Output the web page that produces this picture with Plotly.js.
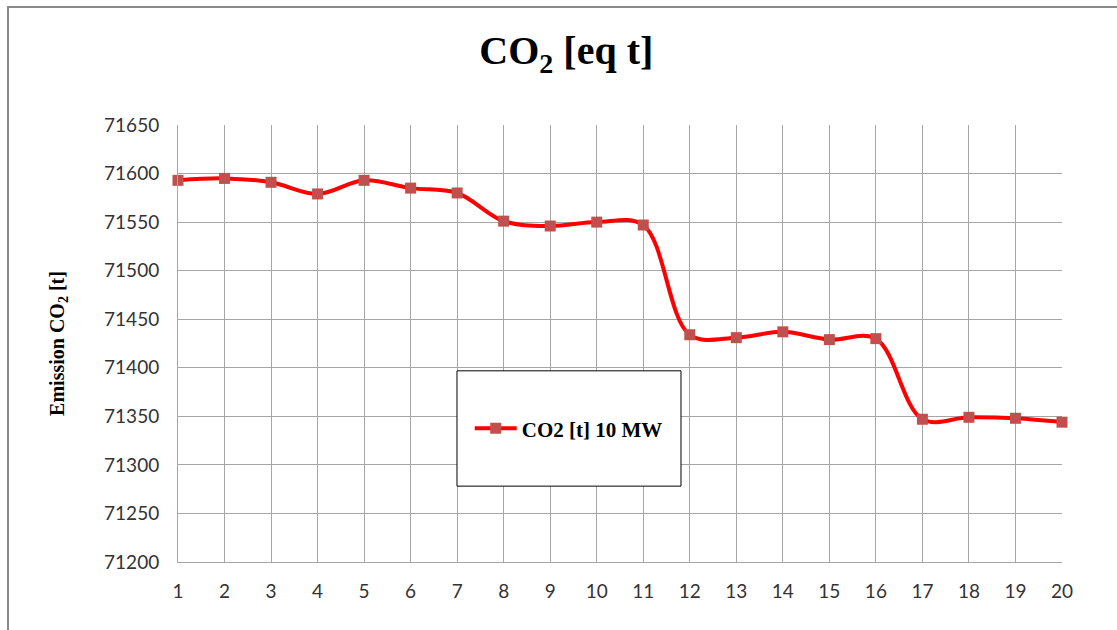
<!DOCTYPE html>
<html>
<head>
<meta charset="utf-8">
<script src="https://cdn.plot.ly/plotly-3.0.1.min.js"></script>
<style>
  html, body { margin: 0; padding: 0; background: #fff; }
  #wrap { position: relative; width: 1117px; height: 630px; overflow: hidden; }
  #frame { position: absolute; left: 7px; top: 6px; width: 1120px; height: 640px; border-left: 2px solid #8a8a8a; border-top: 2px solid #8a8a8a; box-sizing: border-box; pointer-events: none; }
  #chart { position: absolute; left: 0; top: 0; width: 1117px; height: 630px; }
</style>
</head>
<body>
<div id="wrap">
  <div id="chart"></div>
  <div id="frame"></div>
</div>
<script>
const categories = [1, 2, 3, 4, 5, 6, 7, 8, 9, 10, 11, 12, 13, 14, 15, 16, 17, 18, 19, 20];
const co2Values = [71593, 71595, 71591, 71579, 71593, 71585, 71580, 71551, 71546, 71550,
                   71547, 71434, 71431, 71437, 71429, 71430, 71347, 71349, 71348, 71344];
const seriesName = '<b>CO2 [t] 10 MW</b>';
const yTicks = [71200, 71250, 71300, 71350, 71400, 71450, 71500, 71550, 71600, 71650];

const trace = {
  x: categories,
  y: co2Values,
  name: seriesName,
  type: 'scatter',
  mode: 'lines+markers',
  line: { color: '#ff0000', width: 4, shape: 'spline', smoothing: 1 },
  marker: { symbol: 'square', size: 11, color: '#c0504d', line: { width: 0 } },
  cliponaxis: false
};

const layout = {
  width: 1117,
  height: 630,
  margin: { l: 178, r: 55, t: 125, b: 68 },
  paper_bgcolor: '#ffffff',
  plot_bgcolor: '#ffffff',
  showlegend: true,
  title: {
    text: '<b>CO<sub>2</sub> [eq t]</b>',
    font: { family: 'Liberation Serif, Times New Roman, serif', size: 40, color: '#000' },
    x: 0.507, xanchor: 'center', y: 0.92, yanchor: 'middle'
  },
  xaxis: {
    range: [1, 20],
    tickvals: categories,
    ticktext: categories.map(String),
    showgrid: true, gridcolor: '#a6a6a6', gridwidth: 1,
    zeroline: false,
    showline: true, linecolor: '#a6a6a6', linewidth: 1, mirror: false,
    ticks: '', ticklen: 0,
    ticklabelstandoff: 12,
    tickfont: { family: 'Lato, Open Sans, sans-serif', size: 19, color: '#333' },
    fixedrange: true
  },
  yaxis: {
    range: [71200, 71650],
    tickvals: yTicks,
    ticktext: yTicks.map(String),
    showgrid: true, gridcolor: '#a6a6a6', gridwidth: 1,
    zeroline: false,
    showline: true, linecolor: '#a6a6a6', linewidth: 1,
    ticks: '', ticklen: 0,
    ticklabelstandoff: 14,
    tickfont: { family: 'Lato, Open Sans, sans-serif', size: 19, color: '#333' },
    title: {
      text: '<b>Emission CO<sub>2</sub> [t]</b>',
      font: { family: 'Liberation Serif, Times New Roman, serif', size: 20, color: '#000' },
      standoff: 34
    },
    fixedrange: true
  },
  legend: {
    x: 0.33, y: 0.305, xanchor: 'left', yanchor: 'middle',
    bgcolor: 'rgba(0,0,0,0)', borderwidth: 0,
    itemwidth: 42,
    font: { family: 'Liberation Serif, Times New Roman, serif', size: 21, color: '#000' }
  },
  shapes: [{
    type: 'rect', xref: 'paper', yref: 'paper',
    x0: 0.3156, x1: 0.569, y0: 0.1736, y1: 0.4375,
    line: { color: '#000', width: 1 }, fillcolor: '#ffffff', layer: 'above'
  }]
};

Plotly.newPlot('chart', [trace], layout, { displayModeBar: false, staticPlot: true });
</script>
</body>
</html>
